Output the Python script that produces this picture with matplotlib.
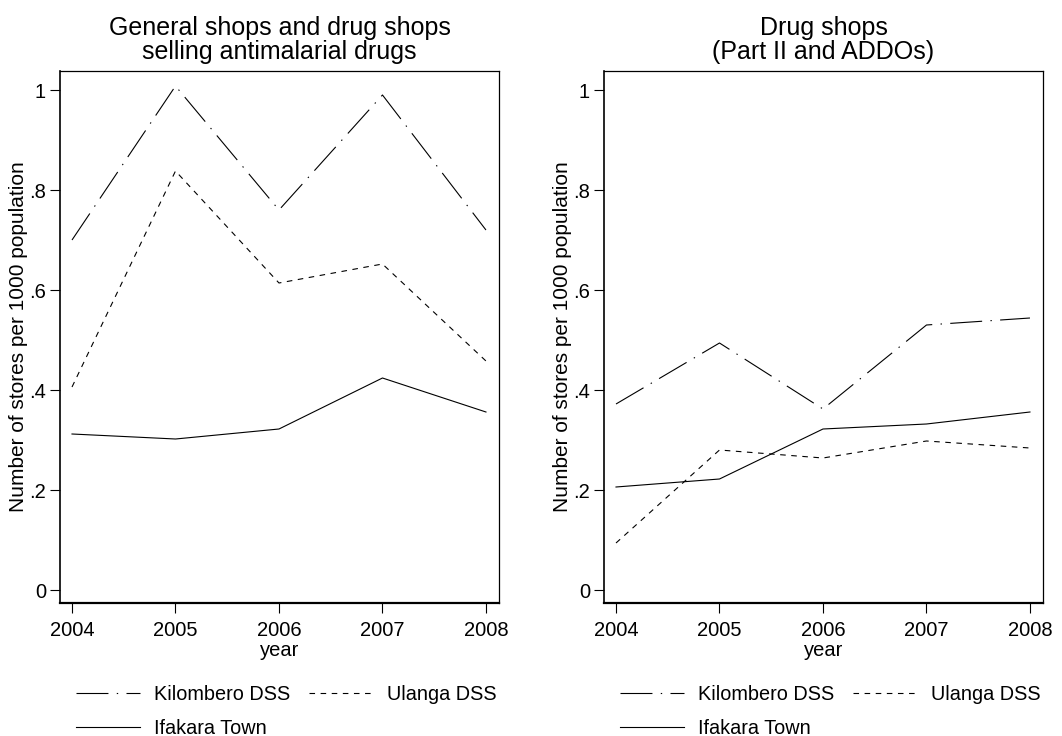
import matplotlib
matplotlib.use("Agg")
import matplotlib.pyplot as plt

plt.rcParams['font.family'] = ['Liberation Sans', 'DejaVu Sans']
plt.rcParams['lines.scale_dashes'] = False

years = [2004, 2005, 2006, 2007, 2008]

# stores per 1000 population, general shops + drug shops
gen_kilombero = [0.70, 1.008, 0.76, 0.99, 0.72]
gen_ulanga = [0.406, 0.838, 0.614, 0.652, 0.458]
gen_ifakara = [0.312, 0.302, 0.322, 0.424, 0.356]

# drug shops only (Part II and ADDOs)
drug_kilombero = [0.372, 0.494, 0.362, 0.53, 0.544]
drug_ulanga = [0.094, 0.28, 0.264, 0.298, 0.284]
drug_ifakara = [0.206, 0.222, 0.322, 0.332, 0.356]

yticks = [0, 0.2, 0.4, 0.6, 0.8, 1.0]
yticklabels = ['0', '.2', '.4', '.6', '.8', '1']

titles = ["General shops and drug shops\nselling antimalarial drugs",
          "Drug shops\n(Part II and ADDOs)"]

W, H = 1062, 736
fig = plt.figure(figsize=(W / 100, H / 100), dpi=100)

panels = [
    (60, (gen_kilombero, gen_ulanga, gen_ifakara)),
    (604, (drug_kilombero, drug_ulanga, drug_ifakara)),
]

for k, (left_px, (kil, ula, ifa)) in enumerate(panels):
    ax = fig.add_axes([left_px / W, 1 - 603 / H, 439 / W, 532 / H])
    l1, = ax.plot(years, kil, color='black', lw=0.8,
                  dashes=(23, 6, 1, 6), label='Kilombero DSS')
    l2, = ax.plot(years, ula, color='black', lw=0.8,
                  dashes=(4, 4), label='Ulanga DSS')
    l3, = ax.plot(years, ifa, color='black', lw=0.8, label='Ifakara Town')

    ax.set_xlim(2003.884, 2008.126)
    ax.set_ylim(-0.026, 1.038)
    ax.set_xticks(years)
    ax.set_yticks(yticks)
    ax.set_yticklabels(yticklabels)
    ax.tick_params(direction='out', length=7, width=0.8, labelsize=14.5)
    ax.tick_params(axis='x', pad=6)
    ax.tick_params(axis='y', pad=3)
    for s in ax.spines.values():
        s.set_linewidth(0.9)
    ax.spines['bottom'].set_linewidth(1.6)
    ax.spines['left'].set_linewidth(1.2)

    ax.set_title(titles[k], fontsize=18, pad=8.5, linespacing=1.0)
    ax.set_xlabel('year', fontsize=14.5, labelpad=0.5)
    ax.set_ylabel('Number of stores per 1000 population', fontsize=15, labelpad=1)

    # row-major order: Kilombero, Ulanga / Ifakara
    ax.legend([l1, l3, l2], ['Kilombero DSS', 'Ifakara Town', 'Ulanga DSS'],
              ncol=2, frameon=False, fontsize=14.3,
              loc='upper left', bbox_to_anchor=((left_px + 16) / W, 1 - 685 / H),
              bbox_transform=fig.transFigure, borderpad=0, borderaxespad=0,
              handlelength=3.2, handletextpad=0.75, columnspacing=0.9,
              labelspacing=0.75)

fig.savefig('out.png', dpi=100, facecolor='white')
